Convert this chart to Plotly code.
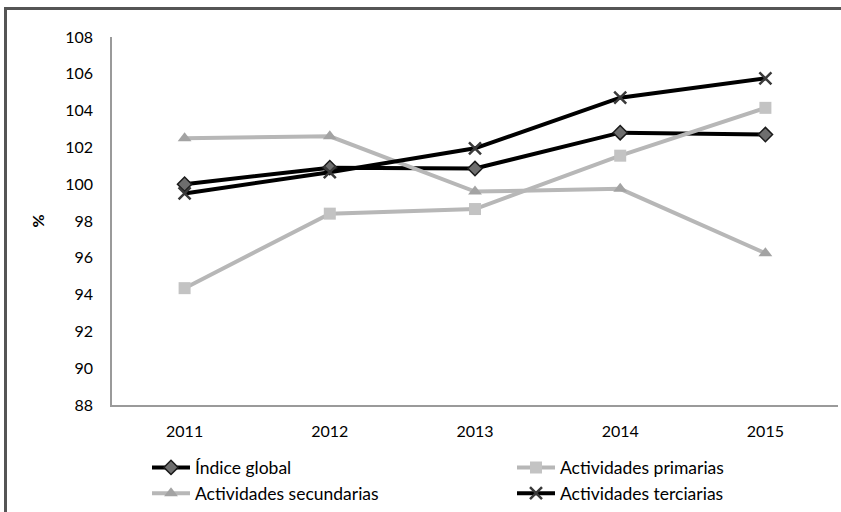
import plotly.graph_objects as go

# Years on the category axis
years = ["2011", "2012", "2013", "2014", "2015"]

# Index values (%) per series
indice_global = [100.0, 100.9, 100.85, 102.8, 102.7]
act_primarias = [94.35, 98.4, 98.65, 101.55, 104.15]
act_secundarias = [102.5, 102.6, 99.6, 99.75, 96.25]
act_terciarias = [99.5, 100.65, 101.95, 104.7, 105.75]

y_ticks = [88, 90, 92, 94, 96, 98, 100, 102, 104, 106, 108]

FONT = "Lato"
W, H = 841, 512
L, R, T, B = 112, 3, 37, 107
pw, ph = W - L - R, H - T - B

fig = go.Figure()

fig.add_trace(go.Scatter(
    x=years, y=indice_global, name="Índice global", mode="lines+markers",
    line=dict(color="#000000", width=4),
    marker=dict(symbol="diamond", size=11, color="#6e6e6e",
                line=dict(color="#1a1a1a", width=1.5)),
))
fig.add_trace(go.Scatter(
    x=years, y=act_primarias, name="Actividades primarias", mode="lines+markers",
    line=dict(color="#b7b7b7", width=4),
    marker=dict(symbol="square", size=12, color="#c3c3c3",
                line=dict(color="#c3c3c3", width=0)),
))
fig.add_trace(go.Scatter(
    x=years, y=act_secundarias, name="Actividades secundarias", mode="lines+markers",
    line=dict(color="#b7b7b7", width=4),
    marker=dict(symbol="triangle-up", size=12, color="#a3a3a3",
                line=dict(color="#a3a3a3", width=0)),
))
fig.add_trace(go.Scatter(
    x=years, y=act_terciarias, name="Actividades terciarias", mode="lines+markers",
    line=dict(color="#000000", width=4),
    marker=dict(symbol="x-thin", size=12, color="#3a3a3a",
                line=dict(color="#3a3a3a", width=2.5)),
))

# Frame lines along the top and left edges of the figure
def px_to_paper_x(px):
    return (px - L) / pw

def px_to_paper_y(py):
    return (H - B - py) / ph

frame = dict(type="line", xref="paper", yref="paper",
             line=dict(color="#555555", width=3), layer="above")
fig.add_shape(**frame, x0=px_to_paper_x(4), x1=px_to_paper_x(845),
              y0=px_to_paper_y(8.5), y1=px_to_paper_y(8.5))
fig.add_shape(**frame, x0=px_to_paper_x(5.5), x1=px_to_paper_x(5.5),
              y0=px_to_paper_y(7), y1=px_to_paper_y(520))

fig.update_layout(
    width=W, height=H,
    margin=dict(l=L, r=R, t=T, b=B),
    paper_bgcolor="white", plot_bgcolor="white",
    font=dict(family=FONT, size=16, color="#000000"),
    showlegend=True,
    legend=dict(
        orientation="h", x=147 / W, y=0.5 / H, xref="container", yref="container",
        xanchor="left", yanchor="bottom",
        entrywidth=312, entrywidthmode="pixels",
        font=dict(family=FONT, size=17.5), tracegroupgap=0,
        itemwidth=38, bgcolor="rgba(0,0,0,0)",
        traceorder="normal",
    ),
    xaxis=dict(
        type="category", showgrid=False, zeroline=False,
        showline=True, linecolor="#9a9a9a", linewidth=1.5,
        ticks="", ticklabelstandoff=11,
        tickfont=dict(family=FONT, size=16),
        range=[-0.5, 4.5],
    ),
    yaxis=dict(
        range=[88, 108], tickvals=y_ticks, showgrid=False, zeroline=False,
        showline=True, linecolor="#9a9a9a", linewidth=1.5,
        ticks="", ticklabelstandoff=14,
        tickfont=dict(family=FONT, size=16),
        title=dict(text="<b>%</b>", font=dict(family=FONT, size=16), standoff=17),
    ),
)

fig.write_html("out.html")
